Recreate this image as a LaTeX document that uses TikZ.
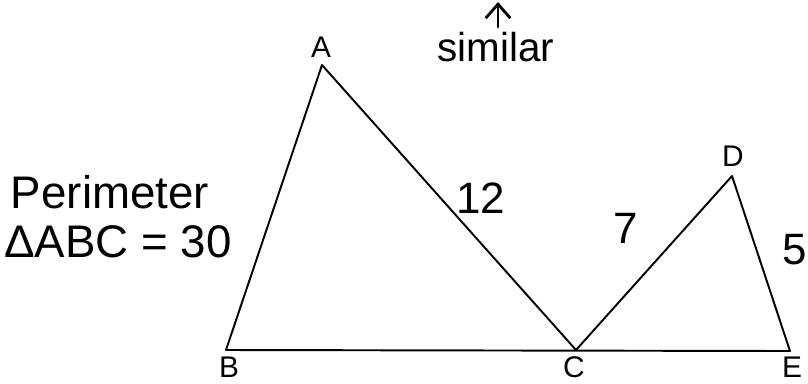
\documentclass[tikz,border=0pt]{standalone}
\usepackage{fontspec}
\setmainfont{Liberation Sans}
\usepackage{tikz}
\usetikzlibrary{calc, positioning, arrows.meta}

\tikzset{
    vertex/.style={font=\fontsize{17}{17}\selectfont, inner sep=0pt, anchor=base, text depth=0pt},
    hand/.style={font=\fontsize{25}{25}\selectfont, inner sep=0pt},
    side/.style={line width=1.1pt, line join=round}
}

\begin{document}
\begin{tikzpicture}[>=stealth, x=0.02cm, y=-0.02cm]
    \useasboundingbox (0,0) rectangle (808,383);
    % 1. Các đỉnh
    \coordinate (A) at (322,65);
    \coordinate (B) at (226,350);
    \coordinate (C) at (576,350);
    \coordinate (D) at (732,176);
    \coordinate (E) at (790,351);

    % 2. Hai tam giác
    \draw[side] (A) -- (B) -- (E) -- (D) -- (C) -- cycle;

    % 3. Tên đỉnh
    \node[vertex] (lA) at (321,57) {A};
    \node[vertex] (lB) at (229,377) {B};
    \node[vertex] (lC) at (574,377) {C};
    \node[vertex] (lD) at (733,166) {D};
    \node[vertex] (lE) at (792,377) {E};

    % 4. Độ dài cạnh
    \node[hand] (s12) at (481,198) {12};
    \node[hand] (s7) at (626,228) {7};
    \node[hand] (s5) at (795,250) {5};

    % 5. Ghi chú
    \node[hand, font=\fontsize{26}{26}\selectfont] (per) at (110,192) {Perimeter};
    \node[hand, font=\fontsize{26}{26}\selectfont] (tri) at (118,242) {ΔABC = 30};
    \node[hand, font=\fontsize{23}{23}\selectfont, anchor=base] (sim) at (496,61) {similar};
    \coordinate (top) at (498,2);
    \coordinate (bot) at (498,27);
    \draw[-{Straight Barb[length=8pt,width=14pt]}, line width=1.6pt, line cap=round] (bot) -- (top);
\end{tikzpicture}
\end{document}
